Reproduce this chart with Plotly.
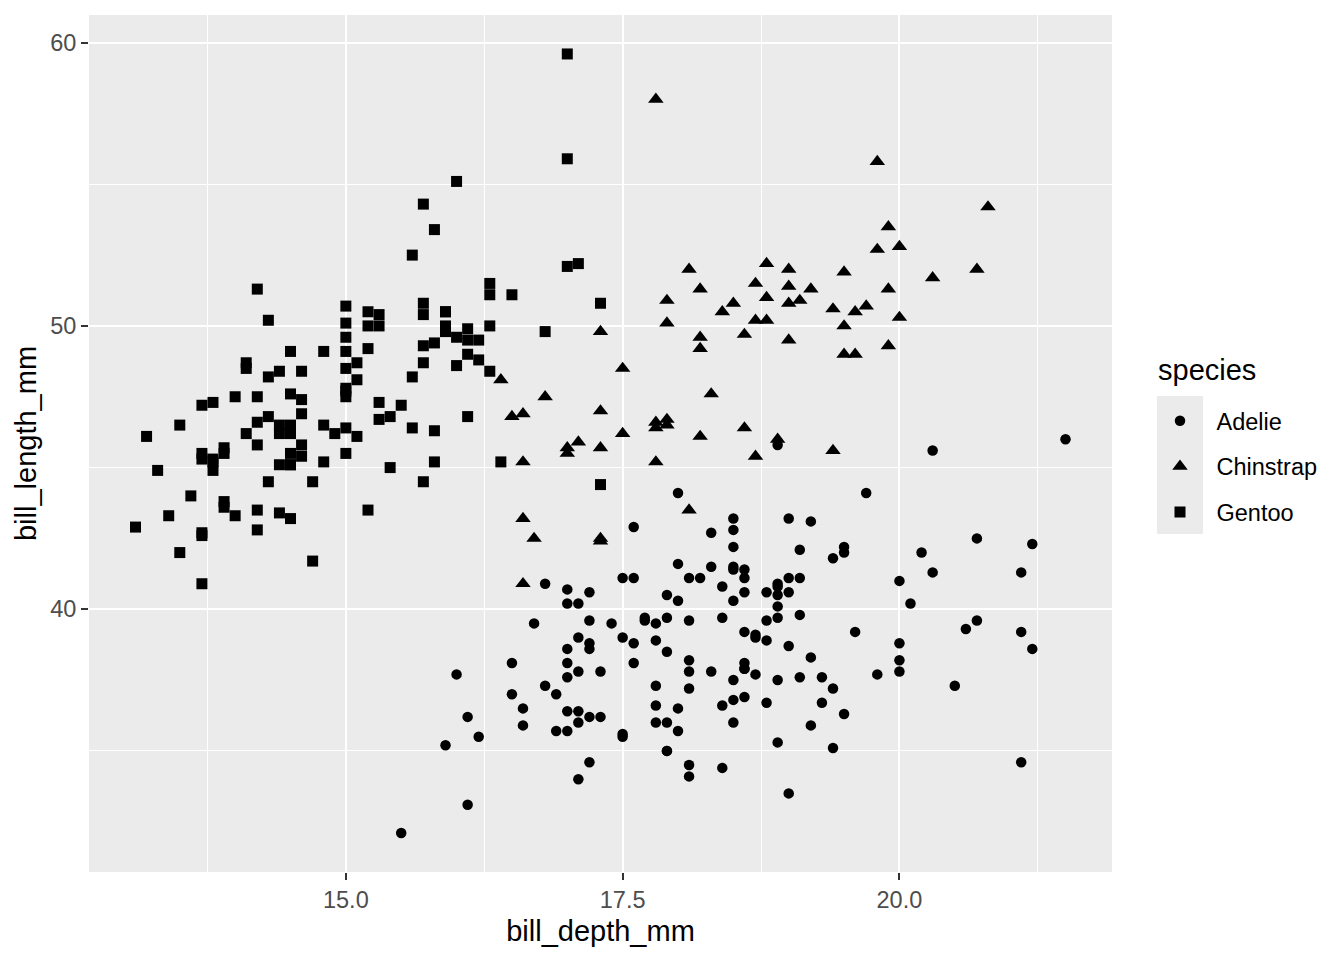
import plotly.graph_objects as go

# Adelie: (bill_depth_mm, bill_length_mm)
adelie_depth = [18.7,17.4,18.0,19.3,20.6,17.8,19.6,18.1,20.2,17.1,17.3,17.6,21.2,21.1,17.8,19.0,20.7,18.4,21.5,
                18.3,18.7,19.2,18.1,17.2,18.9,18.6,17.9,18.6,18.9,16.7,18.1,17.8,18.9,17.0,21.1,20.0,18.5,19.3,19.1,
                18.0,18.4,18.5,19.7,16.9,18.8,19.0,18.9,17.9,21.2,17.7,18.9,17.9,19.5,18.1,18.6,17.5,18.8,16.6,19.1,
                16.9,21.1,17.0,18.2,17.1,18.0,16.2,19.1,16.6,19.4,19.0,18.4,17.2,18.9,17.5,18.5,16.8,19.4,16.1,19.1,
                17.2,17.6,18.8,19.4,17.8,20.3,19.5,18.6,19.2,18.8,18.0,18.1,17.1,18.1,17.3,18.9,18.6,18.5,16.1,18.5,
                17.9,20.0,16.0,20.0,18.6,18.9,17.2,20.0,17.0,19.0,16.5,20.3,17.7,19.5,20.7,18.3,17.0,20.5,17.0,18.6,
                17.2,19.8,17.0,18.5,15.9,19.0,17.6,18.3,17.1,18.0,17.9,19.2,18.5,18.5,17.6,17.5,17.5,20.1,16.5,17.9,
                17.1,17.2,15.5,17.0,16.8,18.7,18.6,18.4,17.8,18.1,17.1,18.5]
adelie_length = [39.1,39.5,40.3,36.7,39.3,38.9,39.2,34.1,42.0,37.8,37.8,41.1,38.6,34.6,36.6,38.7,42.5,34.4,46.0,
                 37.8,37.7,35.9,38.2,38.8,35.3,40.6,40.5,37.9,40.5,39.5,37.2,39.5,40.9,36.4,39.2,38.8,42.2,37.6,39.8,
                 36.5,40.8,36.0,44.1,37.0,39.6,41.1,37.5,36.0,42.3,39.6,40.1,35.0,42.0,34.5,41.4,39.0,40.6,36.5,37.6,
                 35.7,41.3,37.6,41.1,36.4,41.6,35.5,41.1,35.9,41.8,33.5,39.7,39.6,45.8,35.5,42.8,40.9,37.2,36.2,42.1,
                 34.6,42.9,36.7,35.1,37.3,41.3,36.3,36.9,38.3,38.9,35.7,41.1,34.0,39.6,36.2,40.8,38.1,40.3,33.1,43.2,
                 35.0,41.0,37.7,37.8,37.9,39.7,38.6,38.2,38.1,43.2,38.1,45.6,39.7,42.2,39.6,42.7,38.6,37.3,35.7,41.1,
                 36.2,37.7,40.2,41.4,35.2,40.6,38.8,41.5,39.0,44.1,38.5,43.1,36.8,37.5,38.1,41.1,35.6,40.2,37.0,39.7,
                 40.2,40.6,32.1,40.7,37.3,39.0,39.2,36.6,36.0,37.8,36.0,41.5]

chinstrap_depth = [17.9,19.5,19.2,18.7,19.8,17.8,18.2,18.2,18.9,19.9,17.8,20.3,17.3,18.1,17.1,19.6,20.0,17.8,18.6,
                   18.2,17.3,17.5,16.6,19.4,17.9,19.0,18.4,19.0,17.8,20.0,16.6,20.8,16.7,18.8,18.6,16.8,18.3,20.7,
                   16.6,19.9,19.5,17.5,19.1,17.0,17.9,18.5,17.9,19.6,18.7,17.3,16.4,19.0,17.3,19.7,17.3,18.8,16.6,
                   19.9,18.8,19.4,19.5,16.5,17.0,19.8,18.1,18.2,19.0,18.7]
chinstrap_length = [46.5,50.0,51.3,45.4,52.7,45.2,46.1,51.3,46.0,51.3,46.6,51.7,47.0,52.0,45.9,50.5,50.3,58.0,46.4,
                    49.2,42.4,48.5,43.2,50.6,46.7,52.0,50.5,49.5,46.4,52.8,40.9,54.2,42.5,51.0,49.7,47.5,47.6,52.0,
                    46.9,53.5,49.0,46.2,50.9,45.5,50.9,50.8,50.1,49.0,51.5,49.8,48.1,51.4,45.7,50.7,42.5,52.2,45.2,
                    49.3,50.2,45.6,51.9,46.8,45.7,55.8,43.5,49.6,50.8,50.2]

gentoo_depth = [13.2,16.3,14.1,15.2,14.5,13.5,14.6,15.3,13.4,15.4,13.7,16.1,13.7,14.6,14.6,15.7,13.5,15.2,14.5,
                15.1,14.3,14.5,14.5,15.8,13.1,15.1,14.3,15.0,14.3,15.3,15.3,14.2,14.5,17.0,14.8,16.3,13.7,17.3,
                13.6,15.7,13.7,16.0,13.7,15.0,15.9,13.9,13.9,15.9,13.3,15.8,14.2,14.1,14.4,15.0,14.4,15.4,13.9,
                15.0,14.5,15.3,13.8,14.9,13.9,15.7,14.2,16.8,14.4,16.2,14.2,15.0,15.0,15.6,15.6,14.8,15.0,16.0,
                14.2,16.3,13.8,16.4,14.5,15.6,14.6,15.9,13.8,17.3,14.4,14.2,14.0,17.0,15.0,17.1,14.5,16.1,14.7,
                15.7,15.8,14.6,14.4,16.5,15.0,17.0,15.5,15.0,13.8,16.1,14.7,15.8,14.0,15.1,15.2,15.9,15.2,16.3,
                14.1,16.0,15.7,16.2,13.7,14.3,15.7,14.8,16.1]
gentoo_length = [46.1,50.0,48.7,50.0,47.6,46.5,45.4,46.7,43.3,46.8,40.9,49.0,45.5,48.4,45.8,49.3,42.0,49.2,46.2,
                 48.7,50.2,45.1,46.5,46.3,42.9,46.1,44.5,47.8,48.2,50.0,47.3,42.8,45.1,59.6,49.1,48.4,42.6,44.4,
                 44.0,48.7,42.7,49.6,45.3,49.6,50.5,43.6,45.5,50.5,44.9,45.2,46.6,48.5,45.1,50.1,46.5,45.0,43.8,
                 45.5,43.2,50.4,45.3,46.2,45.7,54.3,45.8,49.8,46.2,49.5,43.5,50.7,47.7,46.4,48.2,46.5,46.4,48.6,
                 47.5,51.1,45.2,45.2,49.1,52.5,47.4,50.0,44.9,50.8,43.4,51.3,47.5,52.1,47.5,52.2,45.5,49.5,44.5,
                 50.8,49.4,46.9,48.4,51.1,48.5,55.9,47.2,49.1,47.3,46.8,41.7,53.4,43.3,48.1,50.5,49.8,43.5,51.5,
                 46.2,55.1,44.5,48.8,47.2,46.8,50.4,45.2,49.9]

species = ["Adelie", "Chinstrap", "Gentoo"]
x_ticks = [15.0, 17.5, 20.0]
x_tick_labels = ["15.0", "17.5", "20.0"]
y_ticks = [40, 50, 60]
y_tick_labels = ["40", "50", "60"]

FONT = "Liberation Sans, Arial, sans-serif"

fig = go.Figure()
series = [
    ("Adelie", adelie_depth, adelie_length, "circle", 10.5),
    ("Chinstrap", chinstrap_depth, chinstrap_length, "triangle-up", 13.5),
    ("Gentoo", gentoo_depth, gentoo_length, "square", 11),
]
for name, xs, ys, sym, sz in series:
    fig.add_trace(go.Scatter(
        x=xs, y=ys, mode="markers", name=name, legendgroup=name,
        marker=dict(symbol=sym, size=sz, color="black", line=dict(width=0)),
    ))

# figure coordinates (page adds an 8px body margin)
L, R, T, B = 81, 240, 7, 96
pw, ph = 1344 - L - R, 960 - T - B

def px2paper_x(px):
    return (px - L) / pw

def px2paper_y(py):
    return (960 - B - py) / ph

fig.add_shape(type="rect", xref="paper", yref="paper",
              x0=px2paper_x(1149), x1=px2paper_x(1195),
              y0=px2paper_y(526), y1=px2paper_y(388),
              fillcolor="#EBEBEB", line=dict(width=0), layer="below")

fig.add_annotation(text="species", xref="paper", yref="paper",
                   x=px2paper_x(1148), y=px2paper_y(362), xanchor="left", yanchor="middle",
                   showarrow=False, font=dict(size=29, color="black", family=FONT))

fig.update_layout(
    width=1344, height=960,
    margin=dict(l=L, r=R, t=T, b=B, autoexpand=False),
    paper_bgcolor="white", plot_bgcolor="#EBEBEB",
    font=dict(family=FONT, color="black"),
    showlegend=True,
    legend=dict(
        font=dict(size=23.5, color="black"),
        x=px2paper_x(1135.5), xanchor="left",
        y=px2paper_y(391), yanchor="top",
        bgcolor="rgba(0,0,0,0)", borderwidth=0,
        tracegroupgap=12, itemwidth=63,
    ),
    xaxis=dict(
        range=[12.68, 21.92], tickmode="array", tickvals=x_ticks, ticktext=x_tick_labels,
        showgrid=True, gridcolor="white", gridwidth=2, zeroline=False,
        ticks="outside", ticklen=7, tickwidth=2, tickcolor="#333333",
        tickfont=dict(size=23.5, color="#4D4D4D", family=FONT),
        minor=dict(tickmode="array", tickvals=[13.75, 16.25, 18.75, 21.25],
                   showgrid=True, gridcolor="white", gridwidth=1, ticks=""),
        title=dict(text="bill_depth_mm", font=dict(size=29, color="black"), standoff=8),
        showline=False, automargin=False,
    ),
    yaxis=dict(
        range=[30.725, 60.975], tickmode="array", tickvals=y_ticks, ticktext=y_tick_labels,
        showgrid=True, gridcolor="white", gridwidth=2, zeroline=False,
        ticks="outside", ticklen=7, tickwidth=2, tickcolor="#333333",
        tickfont=dict(size=23.5, color="#4D4D4D", family=FONT),
        minor=dict(tickmode="array", tickvals=[35, 45, 55],
                   showgrid=True, gridcolor="white", gridwidth=1, ticks=""),
        title=dict(text="bill_length_mm", font=dict(size=29, color="black"), standoff=5),
        showline=False, automargin=False,
    ),
)

fig.write_html("out.html")
